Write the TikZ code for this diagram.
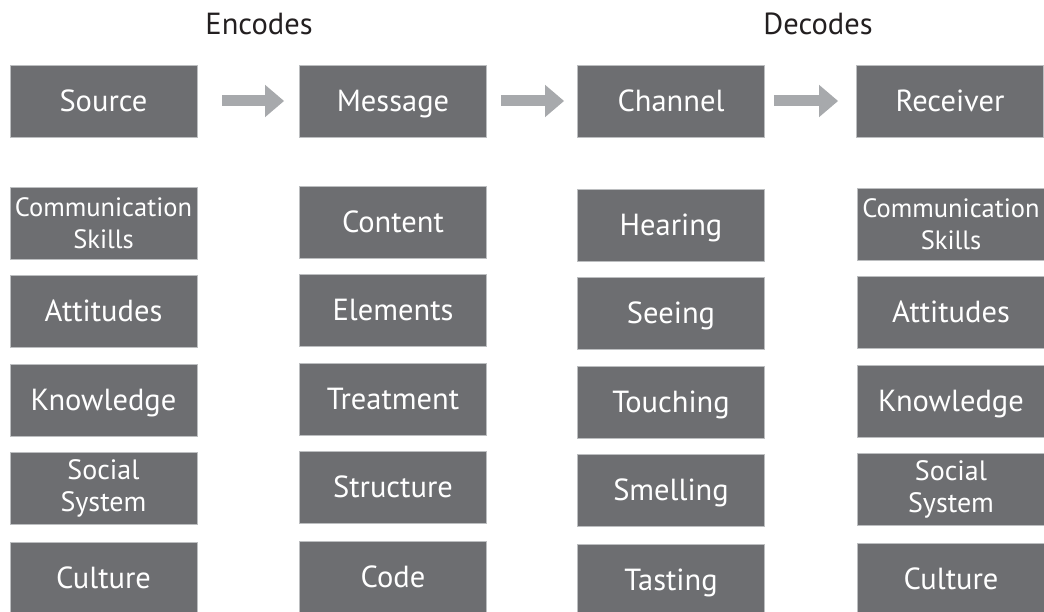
\documentclass[tikz,border=0pt]{standalone}
\usepackage{fontspec}
\setmainfont{PT Sans}
\usetikzlibrary{arrows.meta}
\definecolor{boxgray}{HTML}{6D6E71}
\definecolor{edgegray}{HTML}{BCBEC0}
\definecolor{arrowgray}{HTML}{A7A9AC}
\definecolor{titlecol}{HTML}{231F20}
\begin{document}
\begin{tikzpicture}[x=1pt,y=-1pt,
  box/.style={fill=boxgray,draw=edgegray,line width=0.8pt,minimum width=187pt,minimum height=72pt,
    inner sep=0pt,text=white,font=\fontsize{30.5}{32}\selectfont,
    text height=21.4pt,text depth=0pt},
  twoline/.style={font=\fontsize{26.5}{31.5}\selectfont,align=center,text height=,text depth=},
  twolineb/.style={font=\fontsize{28}{32}\selectfont,align=center,text height=,text depth=},
  title/.style={text=titlecol,font=\fontsize{30.5}{32}\selectfont,inner sep=0pt,anchor=base},
  flow/.style={draw=arrowgray,line width=11pt,-{Triangle[length=19pt,width=31pt]}}
]
\useasboundingbox (0,0) rectangle (1044,612);
% titles
\node[title] (enc) at (259,35) {Encodes};
\node[title] (dec) at (818,35) {Decodes};
% top row
\node[box] (src) at (103.5,101) {Source};
\node[box] (msg) at (393,101) {Message};
\node[box] (chn) at (671,101) {Channel};
\node[box] (rcv) at (950,101) {Receiver};
% arrows
\draw[flow,shorten <=25pt,shorten >=15pt] (src.east) -- (msg.west);
\draw[flow,shorten <=14pt,shorten >=13pt] (msg.east) -- (chn.west);
\draw[flow,shorten <=9pt,shorten >=18pt] (chn.east) -- (rcv.west);
% column 1
\node[box,twoline] (s1) at (103.5,223) {Communication\\Skills};
\node[box] (s2) at (103.5,311) {Attitudes};
\node[box] (s3) at (103.5,400) {Knowledge};
\node[box,twolineb] (s4) at (103.5,488) {Social\\System};
\node[box] (s5) at (103.5,578) {Culture};
% column 2
\node[box] (m1) at (393,222) {Content};
\node[box] (m2) at (393,310) {Elements};
\node[box] (m3) at (393,399) {Treatment};
\node[box] (m4) at (393,487) {Structure};
\node[box] (m5) at (393,577) {Code};
% column 3
\node[box] (c1) at (671,225) {Hearing};
\node[box] (c2) at (671,313) {Seeing};
\node[box] (c3) at (671,402) {Touching};
\node[box] (c4) at (671,490) {Smelling};
\node[box] (c5) at (671,580) {Tasting};
% column 4
\node[box,twoline] (r1) at (951,224) {Communication\\Skills};
\node[box] (r2) at (951,312) {Attitudes};
\node[box] (r3) at (951,401) {Knowledge};
\node[box,twolineb] (r4) at (951,489) {Social\\System};
\node[box] (r5) at (951,579) {Culture};
\end{tikzpicture}
\end{document}
